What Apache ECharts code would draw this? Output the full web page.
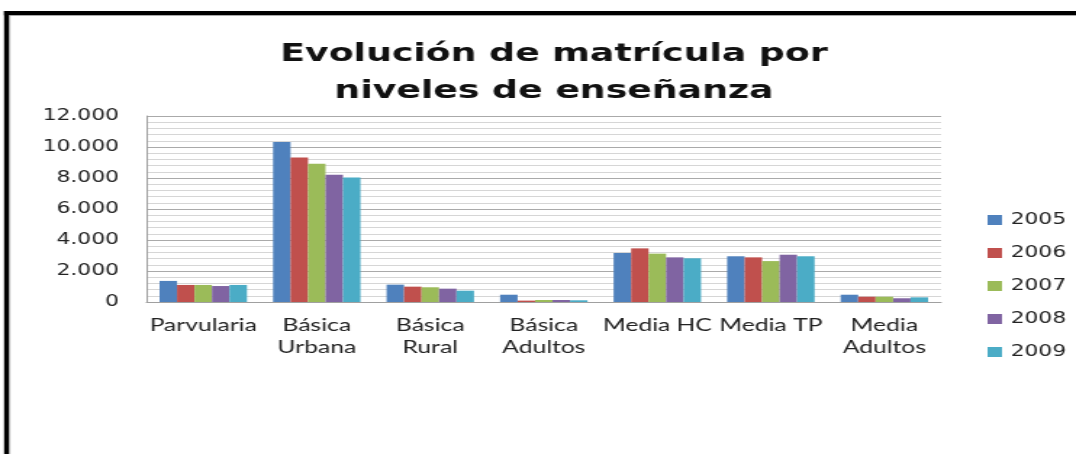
<!DOCTYPE html>
<html>
<head>
<meta charset="utf-8">
<script src="https://cdn.jsdelivr.net/npm/echarts@6/dist/echarts.min.js"></script>
<style>
    body { margin: 0; background: #fff; overflow: hidden; }
    /* the source picture is stretched sideways, so the chart is drawn narrow and widened */
    #chart { width: 742px; height: 454px; transform: scaleX(1.4501); transform-origin: 0 0; }
</style>
</head>
<body>
<div id="chart"></div>
<script>
var niveles = ['Parvularia', 'Básica\nUrbana', 'Básica\nRural', 'Básica\nAdultos', 'Media HC', 'Media TP', 'Media\nAdultos'];
var anios = ['2005', '2006', '2007', '2008', '2009'];
var colores = ['#4F81BD', '#C0504D', '#9BBB59', '#8064A2', '#4BACC6'];

var m2005 = [1360, 10330, 1120, 470, 3160, 2950, 470];
var m2006 = [1100, 9330, 990, 90, 3460, 2880, 340];
var m2007 = [1100, 8920, 950, 130, 3120, 2640, 340];
var m2008 = [1030, 8210, 860, 130, 2880, 3050, 240];
var m2009 = [1100, 8040, 730, 110, 2820, 2950, 300];
var matricula = [m2005, m2006, m2007, m2008, m2009];

function puntos(v) {
    return String(v).replace(/\B(?=(\d{3})+(?!\d))/g, '.');
}

var series = [];
for (var i = 0; i < anios.length; i++) {
    series.push({
        name: anios[i],
        type: 'bar',
        barGap: '0%',
        barCategoryGap: '23%',
        itemStyle: {color: colores[i]},
        data: matricula[i]
    });
}

var option = {
    animation: false,
    backgroundColor: '#fff',
    title: {
        text: 'Evolución de matrícula por\nniveles de enseñanza',
        left: 377,
        top: 31,
        textAlign: 'center',
        textStyle: {
            fontFamily: 'DejaVu Sans',
            fontWeight: 'bold',
            fontSize: 25,
            lineHeight: 37,
            color: '#111'
        }
    },
    legend: {
        orient: 'vertical',
        left: 676,
        top: 207,
        itemWidth: 10,
        itemHeight: 10,
        itemGap: 17,
        icon: 'rect',
        data: anios,
        textStyle: {fontFamily: 'DejaVu Sans', fontSize: 15, lineHeight: 16, color: '#222', padding: [0, 0, 0, 1]}
    },
    grid: {
        left: 101,
        right: 93,
        top: 116,
        bottom: 152
    },
    xAxis: {
        type: 'category',
        data: niveles,
        axisTick: {show: false},
        axisLine: {lineStyle: {color: '#a0a0a0'}},
        axisLabel: {
            interval: 0,
            margin: 13,
            fontFamily: 'Lato',
            fontSize: 17,
            lineHeight: 22,
            color: '#222'
        }
    },
    yAxis: {
        type: 'value',
        min: 0,
        max: 12000,
        interval: 2000,
        axisLine: {show: true, lineStyle: {color: '#a0a0a0'}},
        axisTick: {show: false},
        axisLabel: {
            margin: 19,
            fontFamily: 'DejaVu Sans',
            fontSize: 15,
            color: '#222',
            formatter: puntos
        },
        splitLine: {lineStyle: {color: '#aaaaaa'}},
        minorTick: {show: false, splitNumber: 5},
        minorSplitLine: {show: true, lineStyle: {color: '#d6d6d6'}}
    },
    graphic: [
        {type: 'rect', shape: {x: 2.8, y: 11, width: 760, height: 4}, style: {fill: '#000'}},
        {type: 'rect', shape: {x: 2.8, y: 15, width: 760, height: 1}, style: {fill: '#aaa'}},
        {type: 'rect', shape: {x: 2.8, y: 11, width: 3.5, height: 460}, style: {fill: '#000'}},
        {type: 'rect', shape: {x: 6.3, y: 15, width: 0.8, height: 460}, style: {fill: '#aaa'}}
    ],
    series: series
};

var chart = echarts.init(document.getElementById('chart'));
chart.setOption(option);
</script>
</body>
</html>
